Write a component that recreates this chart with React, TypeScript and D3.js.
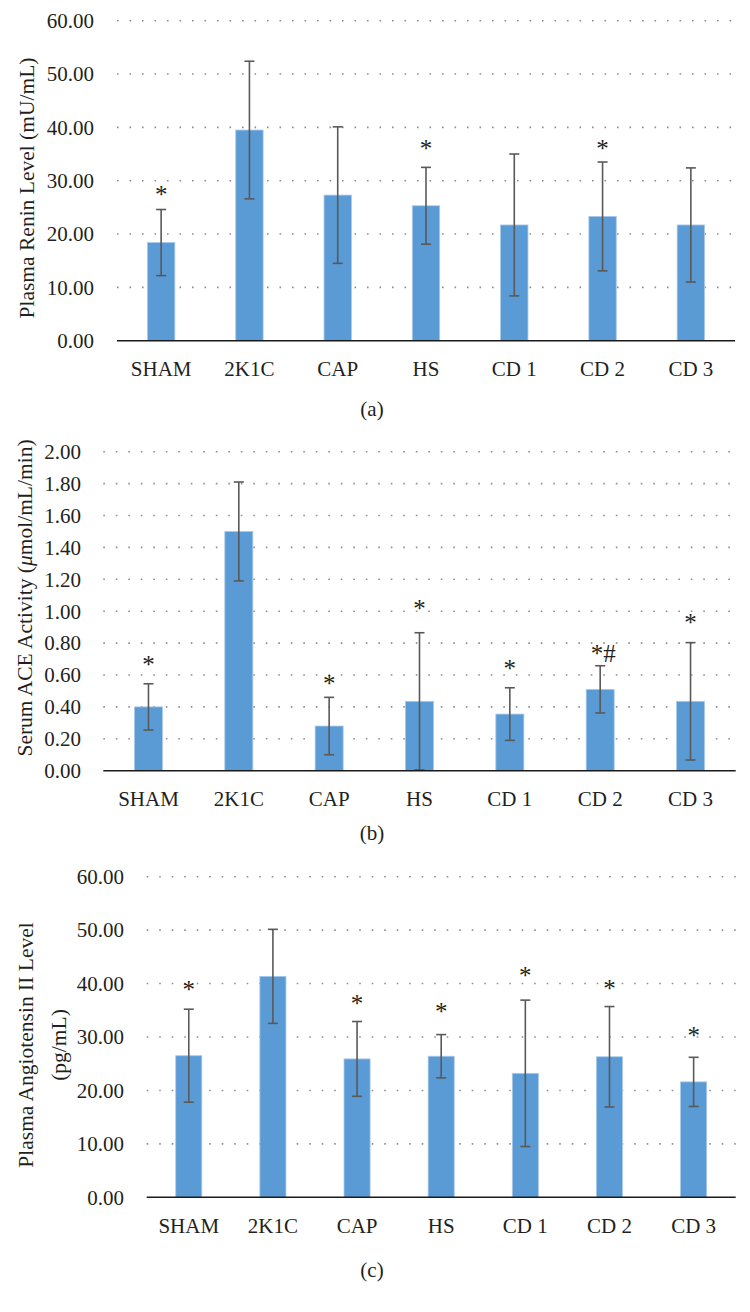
import React from "react";
import * as d3 from "d3";

const categories = ["SHAM", "2K1C", "CAP", "HS", "CD 1", "CD 2", "CD 3"];

// Panel (a) Plasma Renin Level (mU/mL)
const reninMean = [18.4, 39.5, 27.3, 25.3, 21.7, 23.3, 21.7];
const reninSD = [6.2, 12.9, 12.8, 7.2, 13.3, 10.2, 10.7];
const reninMarks = ["*", "", "", "*", "", "*", ""];
const reninMarkY = [28.3, 0, 0, 36.9, 0, 36.9, 0];
const reninTicks = [0, 10, 20, 30, 40, 50, 60];

// Panel (b) Serum ACE Activity (μmol/mL/min)
const aceMean = [0.40, 1.50, 0.28, 0.435, 0.355, 0.51, 0.435];
const aceSD = [0.145, 0.31, 0.18, 0.43, 0.165, 0.148, 0.368];
const aceMarks = ["*", "", "*", "*", "*", "*#", "*"];
const aceMarkY = [0.694, 0, 0.573, 1.043, 0.667, 0.765, 0.955];
const aceTicks = [0, 0.2, 0.4, 0.6, 0.8, 1.0, 1.2, 1.4, 1.6, 1.8, 2.0];

// Panel (c) Plasma Angiotensin II Level (pg/mL)
const angMean = [26.5, 41.35, 25.9, 26.4, 23.2, 26.3, 21.6];
const angSD = [8.7, 8.8, 7.0, 4.05, 13.7, 9.4, 4.6];
const angMarks = ["*", "", "*", "*", "*", "*", "*"];
const angMarkY = [39.7, 0, 37.05, 35.7, 42.4, 40.0, 31.1];
const angTicks = [0, 10, 20, 30, 40, 50, 60];

const FONT = "'Liberation Serif', 'Times New Roman', serif";
const TEXT = "#231F20";
const BAR = "#5B9BD5";
const ERR = "#595959";

type PanelProps = {
  mean: number[];
  sd: number[];
  marks: string[];
  markY: number[];
  ticks: number[];
  domain: [number, number];
  x0: number;
  x1: number;
  yTop: number;
  yBottom: number;
  tickX: number;
  catY: number;
  caption: string;
  captionY: number;
  title: React.ReactNode;
};

function Panel(p: PanelProps) {
  const x = d3
    .scaleBand<string>()
    .domain(categories)
    .range([p.x0, p.x1])
    .paddingInner(0.69)
    .paddingOuter(0.345);
  const y = d3.scaleLinear().domain(p.domain).range([p.yBottom, p.yTop]);
  const bw = x.bandwidth();
  return (
    <g>
      {p.ticks.map((t) => (
        <g key={t}>
          {t !== 0 && (
            <line
              x1={p.x0}
              x2={p.x1}
              y1={y(t)}
              y2={y(t)}
              stroke="#8f8f8f"
              strokeWidth={1.6}
              strokeDasharray="1.6 10.9"
            />
          )}
          <text
            x={p.tickX}
            y={y(t)}
            dy="0.35em"
            textAnchor="end"
            fontSize={21}
            fontFamily={FONT}
            fill={TEXT}
          >
            {t.toFixed(2)}
          </text>
        </g>
      ))}
      {categories.map((c, i) => {
        const cx = (x(c) as number) + bw / 2;
        const hi = y(p.mean[i] + p.sd[i]);
        const lo = y(Math.max(0, p.mean[i] - p.sd[i]));
        return (
          <g key={c}>
            <rect
              x={x(c)}
              y={y(p.mean[i])}
              width={bw}
              height={y(0) - y(p.mean[i])}
              fill={BAR}
              stroke="#a9c9ea"
              strokeWidth={0.8}
            />
            <line x1={cx} x2={cx} y1={hi} y2={lo} stroke={ERR} strokeWidth={1.6} />
            <line x1={cx - 5} x2={cx + 5} y1={hi} y2={hi} stroke={ERR} strokeWidth={1.6} />
            <line x1={cx - 5} x2={cx + 5} y1={lo} y2={lo} stroke={ERR} strokeWidth={1.6} />
            {p.marks[i] && (
              <text
                x={cx + (p.marks[i].length > 1 ? 3 : 0)}
                y={y(p.markY[i]) + 13}
                textAnchor="middle"
                fontSize={25}
                fontFamily={FONT}
                fill={TEXT}
              >
                {p.marks[i]}
              </text>
            )}
            <text
              x={cx}
              y={p.catY}
              textAnchor="middle"
              fontSize={21}
              fontFamily={FONT}
              fill={TEXT}
            >
              {c}
            </text>
          </g>
        );
      })}
      <line
        x1={p.x0}
        x2={p.x1}
        y1={y(0)}
        y2={y(0)}
        stroke="#1a1a1a"
        strokeWidth={1.6}
      />
      {p.title}
      <text
        x={372}
        y={p.captionY}
        textAnchor="middle"
        fontSize={21}
        fontFamily={FONT}
        fill={TEXT}
      >
        {p.caption}
      </text>
    </g>
  );
}

export default function App() {
  return (
    <div style={{ position: "absolute", left: 0, top: 0 }}>
      <svg width={750} height={1312} style={{ display: "block", background: "#fff" }}>
        <Panel
          mean={reninMean}
          sd={reninSD}
          marks={reninMarks}
          markY={reninMarkY}
          ticks={reninTicks}
          domain={[0, 60]}
          x0={117}
          x1={735}
          yTop={20.7}
          yBottom={340.7}
          tickX={94}
          catY={376}
          caption="(a)"
          captionY={416}
          title={
            <text
              transform="translate(34,188) rotate(-90)"
              textAnchor="middle"
              fontSize={21.5}
              fontFamily={FONT}
              fill={TEXT}
            >
              Plasma Renin Level (mU/mL)
            </text>
          }
        />
        <Panel
          mean={aceMean}
          sd={aceSD}
          marks={aceMarks}
          markY={aceMarkY}
          ticks={aceTicks}
          domain={[0, 2]}
          x0={103.3}
          x1={735.7}
          yTop={451.7}
          yBottom={770.7}
          tickX={81}
          catY={806}
          caption="(b)"
          captionY={840}
          title={
            <text
              transform="translate(32,598) rotate(-90)"
              textAnchor="middle"
              fontSize={21.5}
              fontFamily={FONT}
              fill={TEXT}
            >
              Serum ACE Activity (<tspan fontStyle="italic">μ</tspan>mol/mL/min)
            </text>
          }
        />
        <Panel
          mean={angMean}
          sd={angSD}
          marks={angMarks}
          markY={angMarkY}
          ticks={angTicks}
          domain={[0, 60]}
          x0={146.7}
          x1={735.7}
          yTop={876.7}
          yBottom={1197.3}
          tickX={124}
          catY={1233}
          caption="(c)"
          captionY={1277}
          title={
            <g transform="translate(0,1045) rotate(-90)">
              <text
                x={0}
                y={33}
                textAnchor="middle"
                fontSize={21.5}
                fontFamily={FONT}
                fill={TEXT}
              >
                Plasma Angiotensin II Level
              </text>
              <text
                x={0}
                y={66}
                textAnchor="middle"
                fontSize={21.5}
                fontFamily={FONT}
                fill={TEXT}
              >
                (pg/mL)
              </text>
            </g>
          }
        />
      </svg>
    </div>
  );
}
